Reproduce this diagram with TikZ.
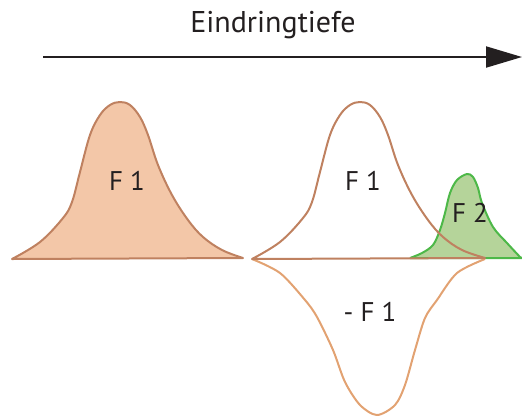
\documentclass[tikz,border=0pt]{standalone}
\usepackage{fontspec}
\setmainfont{PT Sans}
\usetikzlibrary{arrows.meta}
\definecolor{fonefill}{HTML}{F3C7A8}
\definecolor{foneline}{HTML}{BF8160}
\definecolor{mfoneline}{HTML}{E2A272}
\definecolor{ftwofill}{HTML}{B5D49A}
\definecolor{ftwoline}{HTML}{4DB848}
\definecolor{txt}{HTML}{231F20}
\tikzset{
  lbl/.style={text=txt,font=\fontsize{27}{27}\selectfont,inner sep=0pt},
  curveline/.style={line width=2pt,line join=round},
}
\def\fonepts{(12,259) (40,242) (63,218) (72,202) (80,172) (90,135) (100,115) (110,105) (120,102) (130,105) (140,117) (148,135) (158,165) (172,195) (188,220) (203,237) (222,250) (243,258)}
\begin{document}
\begin{tikzpicture}[x=1pt,y=-1pt]
\useasboundingbox (0,0) rectangle (522,416);
% axis arrow
\coordinate (as) at (43,57);
\coordinate (ae) at (522,57);
\draw[line width=2pt,txt,-{Triangle[length=36pt,width=21pt]}] (as) -- (ae);
\node[text=txt,font=\fontsize{30}{30}\selectfont,inner sep=0pt] (title) at (273,25) {Eindringtiefe};
% left F1 filled
\fill[fonefill] plot[smooth,tension=0.6] coordinates {\fonepts} -- cycle;
\draw[foneline,curveline] plot[smooth,tension=0.6] coordinates {\fonepts} -- cycle;
\node[lbl] (f1a) at (127,181) {F 1};
% F2 green
\fill[ftwofill] plot[smooth,tension=0.55] coordinates {(410,258) (422,253) (433,245) (440,230) (445,213) (450,193) (457,180) (467,174) (473,177) (478,188) (482,203) (493,227) (507,243) (520,257)} -- (522,258) -- cycle;
\draw[ftwoline,curveline] plot[smooth,tension=0.55] coordinates {(410,258) (422,253) (433,245) (440,230) (445,213) (450,193) (457,180) (467,174) (473,177) (478,188) (482,203) (493,227) (507,243) (520,257)} -- (522,258) -- (410,258);
% -F1 lower
\draw[mfoneline,curveline] plot[smooth,tension=0.5] coordinates {(252,259) (280,273) (305,300) (317,317) (333,350) (345,382) (360,405) (377,415) (395,405) (405,385) (415,350) (425,318) (437,300) (457,273) (485,259)};
% middle F1 outline
\begin{scope}[xshift=240pt]
\draw[foneline,curveline] plot[smooth,tension=0.6] coordinates {(12,259) (40,242) (63,218) (72,202) (80,172) (90,135) (100,115) (110,105) (120,102) (130,105) (140,117) (148,135) (158,165) (172,195) (188,220) (203,237) (222,250) (245,258)} -- cycle;
\end{scope}
\node[lbl] (f1b) at (363,181) {F 1};
\node[lbl] (f2) at (470,213) {F 2};
\node[lbl] (mf1) at (370,312) {- F 1};
\end{tikzpicture}
\end{document}
